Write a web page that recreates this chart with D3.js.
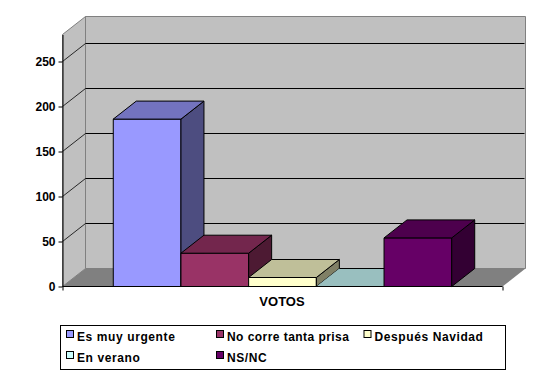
<!DOCTYPE html>
<html><head><meta charset="utf-8">
<script src="https://cdn.jsdelivr.net/npm/d3@7"></script>
<style>html,body{margin:0;padding:0;background:#fff}svg{display:block}text{font-family:"Liberation Sans",Arial,sans-serif;font-weight:bold;fill:#000}</style>
</head><body><div id="c"></div>
<script>
const categories=["Es muy urgente","No corre tanta prisa","Después Navidad","En verano","NS/NC"];
const votes=[186,37,10,0,54];
const colors=["#9999FF","#993366","#FFFFCC","#CCFFFF","#660066"];
const yTicks=[0,50,100,150,200,250];
const axisLabel="VOTOS";
const legendX=[66,216,363.5,66,216];
const legendY=[337,337,337,358,358];

const svg=d3.select("#c").append("svg").attr("width",558).attr("height",379);
const x=d3.scaleBand().domain(categories).range([62.5,502.5]).paddingInner(0).paddingOuter(0.75);
const y=d3.scaleLinear().domain([0,280]).range([286.5,34.5]);
const dx=23,dy=-18;
const poly=(pts,fill,stroke,sw)=>svg.append("polygon").attr("points",pts.map(p=>p.join(",")).join(" "))
  .attr("fill",fill).attr("stroke",stroke||"none").attr("stroke-width",sw||1).attr("stroke-linejoin","miter");
const x0=x.range()[0],x1=x.range()[1],yB=y(0),yT=y(280);
// walls and floor
poly([[x0+dx,yT+dy],[x1+dx,yT+dy],[x1+dx,yB+dy],[x0+dx,yB+dy]],"#C0C0C0","#808080");
poly([[x0,yT],[x0+dx,yT+dy],[x0+dx,yB+dy],[x0,yB]],"#C0C0C0","#808080");
poly([[x0,yB],[x0+dx,yB+dy],[x1+dx,yB+dy],[x1,yB]],"#808080");
// gridlines
yTicks.filter(t=>t>0).forEach(t=>{
  svg.append("line").attr("x1",x0+dx).attr("x2",x1+dx-1).attr("y1",y(t)+dy).attr("y2",y(t)+dy).attr("stroke","#000");
  svg.append("line").attr("x1",x0).attr("x2",x0+dx).attr("y1",y(t)).attr("y2",y(t)+dy).attr("stroke","#000").attr("stroke-width",0.8);
});
// bars
const shade=(c,k)=>{const r=d3.rgb(c);return d3.rgb(r.r*k,r.g*k,r.b*k).formatHex();};
categories.forEach((c,i)=>{
  const l=x(c),r=l+x.bandwidth(),t=y(votes[i]),col=colors[i];
  if(votes[i]>0){
    poly([[l,t],[r,t],[r,yB],[l,yB]],col,"#000");
    poly([[r,t],[r+dx,t+dy],[r+dx,yB+dy],[r,yB]],shade(col,0.5),"#000");
  }
  poly([[l,t],[l+dx,t+dy],[r+dx,t+dy],[r,t]],shade(col,0.75),votes[i]>0?"#000":"none");
  if(votes[i]===0) svg.append("line").attr("x1",l+dx).attr("x2",r+dx).attr("y1",t+dy).attr("y2",t+dy).attr("stroke","#000");
});
// axes
const gy=svg.append("g").attr("transform",`translate(${x0},0)`)
  .call(d3.axisLeft(y).tickValues(yTicks).tickSizeInner(4).tickSizeOuter(0).tickPadding(3));
gy.selectAll("path").attr("stroke","#000");
gy.selectAll("line").attr("stroke","#000");
gy.selectAll("text").attr("font-size",12).style("font-family",'"Liberation Sans",Arial,sans-serif').style("font-weight","bold");
const gx=svg.append("g").attr("transform",`translate(0,${yB})`)
  .call(d3.axisBottom(d3.scalePoint().domain(["a","b"]).range([x0,x1])).tickSize(4).tickFormat(""));
gx.selectAll("path").attr("stroke","#000").attr("d",`M${x0},0H${x1}`);
gx.selectAll("line").attr("stroke","#000");
svg.append("text").attr("x",(x0+x1)/2-0.5).attr("y",306).attr("text-anchor","middle").attr("font-size",13).text(axisLabel);
// legend
svg.append("rect").attr("x",60.5).attr("y",325.5).attr("width",445).attr("height",44).attr("fill","#fff").attr("stroke","#000");
categories.forEach((c,i)=>{
  svg.append("rect").attr("x",legendX[i]+.5).attr("y",legendY[i]-6.5).attr("width",7).attr("height",7).attr("fill",colors[i]).attr("stroke","#000");
  svg.append("text").attr("x",legendX[i]+11).attr("y",legendY[i]+4).attr("font-size",12).attr("letter-spacing",i===1?0.45:0.6).text(c);
});
</script></body></html>
